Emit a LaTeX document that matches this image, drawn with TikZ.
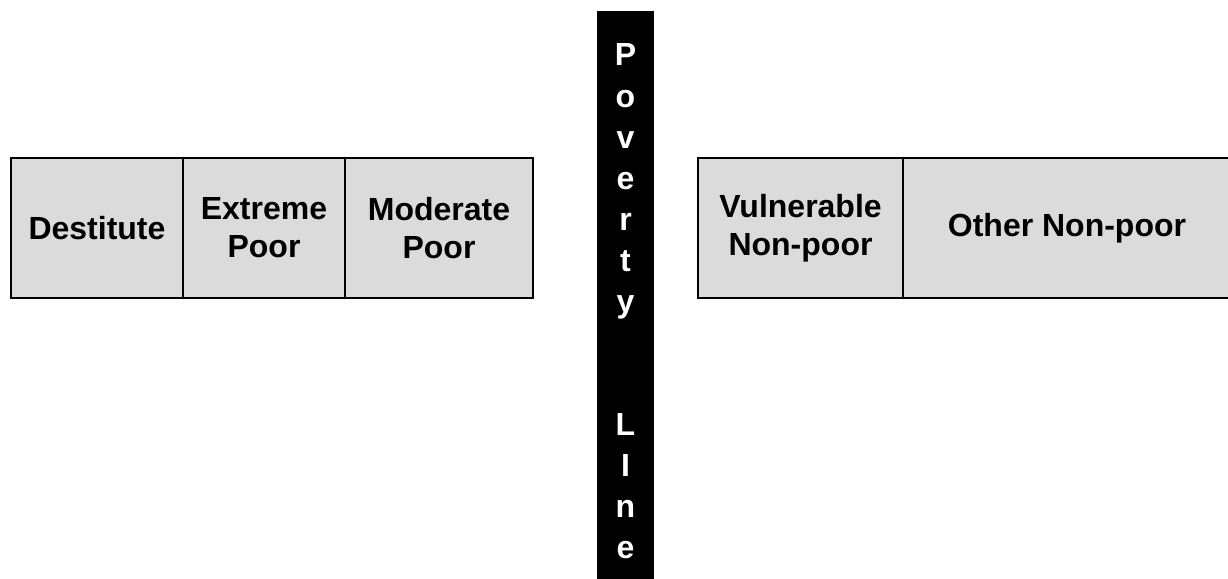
\documentclass[tikz,border=0pt]{standalone}
\usepackage{fontspec}
\setmainfont{Liberation Sans}
\begin{document}
\begin{tikzpicture}[x=1pt,y=-1pt,
  cell/.style={draw=black, line width=2.5pt, fill=black!14, inner sep=0pt,
    minimum height=140pt, align=center,
    font=\bfseries\fontsize{32}{38}\selectfont},
  barletter/.style={text=white, inner sep=0pt, anchor=base,
    font=\bfseries\fontsize{32}{38}\selectfont}]
\useasboundingbox (0,0) rectangle (1228,578);
\fill[white] (0,0) rectangle (1228,578);

% categories below the poverty line
\node[cell, minimum width=172pt] (dest) at (97,228) {Destitute};
\node[cell, minimum width=162pt] (extreme) at (264,228) {Extreme\\Poor};
\node[cell, minimum width=188pt] (moderate) at (439,228) {Moderate\\Poor};

% categories above the poverty line
\node[cell, minimum width=205pt] (vulnerable) at (800.5,228) {Vulnerable\\Non-poor};
\node[cell, minimum width=328pt] (othernp) at (1067,228) {Other Non-poor};

% the poverty line itself, lettered top to bottom
\node[fill=black, inner sep=0pt, minimum width=57pt, minimum height=575pt,
  anchor=north west] (bar) at (597,11) {};
\foreach \ch/\yy [count=\i] in {P/66,o/107,v/148,e/189,r/230,t/271,y/312,
    L/435,I/476,n/517,e/558}
  \node[barletter] (pl\i) at (625.5,\yy) {\ch};
\end{tikzpicture}
\end{document}
